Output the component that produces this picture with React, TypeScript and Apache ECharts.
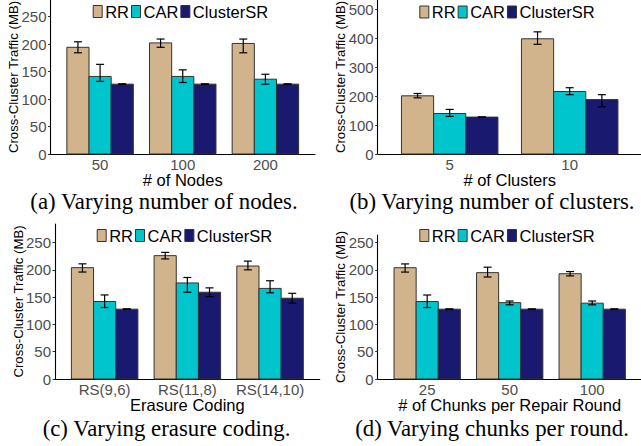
import React, { useEffect, useRef } from 'react';
import * as echarts from 'echarts';

// ---------- data ----------
const seriesNames = ['RR', 'CAR', 'ClusterSR'];
const seriesColors = ['#D2B48C', '#00C5CD', '#191970'];

// (a) number of nodes
const nodesCategories = ['50', '100', '200'];
const nodesRR = [194, 202, 201];
const nodesRRErr = [[184, 204], [194, 209], [184, 209]];
const nodesCAR = [141, 141, 136];
const nodesCARErr = [[132, 163], [130, 153], [127, 145]];
const nodesCSR = [127, 127, 127];
const nodesCSRErr = [[126.3, 127.7], [126.3, 127.7], [126.3, 127.7]];

// (b) number of clusters
const clustersCategories = ['5', '10'];
const clustersRR = [201, 398];
const clustersRRErr = [[194, 209], [379, 422]];
const clustersCAR = [140, 216];
const clustersCARErr = [[130, 154], [205, 229]];
const clustersCSR = [127.5, 188];
const clustersCSRErr = [[126.8, 128.2], [163, 205]];

// (c) erasure coding
const codingCategories = ['RS(9,6)', 'RS(11,8)', 'RS(14,10)'];
const codingRR = [204, 226, 207];
const codingRRErr = [[196, 211], [220, 232], [200, 216]];
const codingCAR = [142, 176, 166];
const codingCARErr = [[131, 154], [159, 186], [158, 180]];
const codingCSR = [128, 159, 148];
const codingCSRErr = [[127.3, 128.7], [151, 167], [139, 157]];

// (d) chunks per repair round
const chunksCategories = ['25', '50', '100'];
const chunksRR = [204, 195, 193];
const chunksRRErr = [[196, 211], [187, 205], [189, 197]];
const chunksCAR = [142, 140, 139];
const chunksCARErr = [[131, 154], [136, 143], [136, 143]];
const chunksCSR = [128, 128, 128];
const chunksCSRErr = [[127.3, 128.7], [127.3, 128.7], [127.3, 128.7]];

const yTicksSmall = [0, 50, 100, 150, 200, 250];
const yTicksLarge = [0, 100, 200, 300, 400, 500];

// ---------- layout ----------
const panels = [
  {
    cats: nodesCategories,
    means: [nodesRR, nodesCAR, nodesCSR],
    errs: [nodesRRErr, nodesCARErr, nodesCSRErr],
    left: 50.5, top: 0, right: 315, bottom: 154, yMax: 280, ticks: yTicksSmall,
    xTitle: '# of Nodes', caption: '(a) Varying number of nodes.',
    yTitleX: 13.5, captionX: 164, captionY: 201, legendLeft: 92.7, legendTop: 3,
  },
  {
    cats: clustersCategories,
    means: [clustersRR, clustersCAR, clustersCSR],
    errs: [clustersRRErr, clustersCARErr, clustersCSRErr],
    left: 377.7, top: 0, right: 641.7, bottom: 154, yMax: 532, ticks: yTicksLarge,
    xTitle: '# of Clusters', caption: '(b) Varying number of clusters.',
    yTitleX: 340.5, captionX: 492, captionY: 201, legendLeft: 419.3, legendTop: 3.5,
  },
  {
    cats: codingCategories,
    means: [codingRR, codingCAR, codingCSR],
    errs: [codingRRErr, codingCARErr, codingCSRErr],
    left: 55, top: 224, right: 319.7, bottom: 379, yMax: 284, ticks: yTicksSmall,
    xTitle: 'Erasure Coding', caption: '(c) Varying erasure coding.',
    yTitleX: 18.7, captionX: 166.5, captionY: 428, legendLeft: 96.7, legendTop: 227,
  },
  {
    cats: chunksCategories,
    means: [chunksRR, chunksCAR, chunksCSR],
    errs: [chunksRRErr, chunksCARErr, chunksCSRErr],
    left: 377.7, top: 235, right: 641.7, bottom: 379, yMax: 264, ticks: yTicksSmall,
    xTitle: '# of Chunks per Repair Round', caption: '(d) Varying chunks per round.',
    yTitleX: 340.5, captionX: 492, captionY: 428, legendLeft: 419.3, legendTop: 227,
  },
];

const BAR_W = 0.268;
const SANS = 'Liberation Sans';
const SERIF = 'Liberation Serif';
const TICK_COLOR = '#4D4D4D';
const BORDER = '#333333';

function buildOption() {
  const grid: any[] = [];
  const xAxis: any[] = [];
  const yAxis: any[] = [];
  const series: any[] = [];
  const legend: any[] = [];
  const graphic: any[] = [];

  panels.forEach((p, gi) => {
    grid.push({
      left: p.left,
      top: p.top,
      width: p.right - p.left,
      height: p.bottom - p.top,
      containLabel: false,
      outerBoundsMode: 'none',
    });
    const idx = p.cats.map((_, i) => i);
    xAxis.push({
      type: 'value',
      gridIndex: gi,
      min: -0.6,
      max: p.cats.length - 0.4,
      splitLine: { show: false },
      axisLine: { show: true, onZero: false, lineStyle: { color: '#000', width: 1.1 } },
      axisTick: { show: false },
      axisLabel: {
        customValues: idx,
        formatter: (v: number) => p.cats[Math.round(v)] ?? '',
        color: TICK_COLOR,
        fontFamily: SANS,
        fontSize: 15,
        lineHeight: 14,
        margin: 3.5,
      },
    });
    yAxis.push({
      type: 'value',
      gridIndex: gi,
      min: 0,
      max: p.yMax,
      splitLine: { show: false },
      axisLine: { show: true, onZero: false, lineStyle: { color: '#000', width: 1.1 } },
      axisTick: { show: true, customValues: p.ticks, length: 2.5, lineStyle: { color: '#333' } },
      axisLabel: {
        customValues: p.ticks,
        color: TICK_COLOR,
        fontFamily: SANS,
        fontSize: 15,
        margin: 4,
      },
    });

    seriesNames.forEach((name, si) => {
      const off = (si - 1) * BAR_W;
      series.push({
        type: 'custom',
        name,
        xAxisIndex: gi,
        yAxisIndex: gi,
        itemStyle: { color: seriesColors[si], borderColor: BORDER, borderWidth: 1 },
        encode: { x: 0, y: 1 },
        data: p.means[si].map((v, i) => [i, v]),
        renderItem: (params: any, api: any) => {
          const x = api.value(0) + off;
          const v = api.value(1);
          const p0 = api.coord([x - BAR_W / 2, v]);
          const p1 = api.coord([x + BAR_W / 2, 0]);
          return {
            type: 'rect',
            shape: { x: p0[0], y: p0[1], width: p1[0] - p0[0], height: p1[1] - p0[1] },
            style: { fill: seriesColors[si], stroke: BORDER, lineWidth: 1 },
          };
        },
        z: 2,
      });
      series.push({
        type: 'custom',
        name: name + ' error',
        xAxisIndex: gi,
        yAxisIndex: gi,
        encode: { x: 0, y: [1, 2] },
        data: p.errs[si].map((e, i) => [i, e[0], e[1]]),
        renderItem: (params: any, api: any) => {
          const x = api.value(0) + off;
          const lo = api.coord([x, api.value(1)]);
          const hi = api.coord([x, api.value(2)]);
          const cw = 4;
          const st = { stroke: '#000', lineWidth: 1.2 };
          return {
            type: 'group',
            children: [
              { type: 'line', shape: { x1: lo[0], y1: lo[1], x2: hi[0], y2: hi[1] }, style: st },
              { type: 'line', shape: { x1: lo[0] - cw, y1: lo[1], x2: lo[0] + cw, y2: lo[1] }, style: st },
              { type: 'line', shape: { x1: hi[0] - cw, y1: hi[1], x2: hi[0] + cw, y2: hi[1] }, style: st },
            ],
          };
        },
        z: 3,
      });
    });

    legend.push({
      data: seriesNames,
      left: p.legendLeft,
      top: p.legendTop,
      padding: 0,
      orient: 'horizontal',
      icon: 'rect',
      itemWidth: 9,
      itemHeight: 12,
      itemGap: 2,
      selectedMode: false,
      textStyle: { fontFamily: SANS, fontSize: 16.5, color: '#000', padding: [0, 0, 0, -2] },
      itemStyle: { borderColor: BORDER, borderWidth: 1 },
    });

    const midY = (p.top + p.bottom) / 2;
    const midX = (p.left + p.right) / 2;
    graphic.push({
      type: 'text',
      x: p.yTitleX,
      y: midY,
      rotation: Math.PI / 2,
      style: {
        text: 'Cross-Cluster Traffic (MB)',
        fontFamily: SANS,
        fontSize: 13.2,
        fill: '#000',
        textAlign: 'center',
        textVerticalAlign: 'middle',
      },
    });
    graphic.push({
      type: 'text',
      x: midX,
      y: p.bottom + 26,
      style: {
        text: p.xTitle,
        fontFamily: SANS,
        fontSize: 16.5,
        lineHeight: 15,
        fill: '#000',
        textAlign: 'center',
        textVerticalAlign: 'middle',
      },
    });
    graphic.push({
      type: 'text',
      x: p.captionX,
      y: p.captionY,
      style: {
        text: p.caption,
        fontFamily: SERIF,
        fontSize: 22.8,
        fill: '#000',
        textAlign: 'center',
        textVerticalAlign: 'middle',
      },
    });
  });

  return {
    animation: false,
    backgroundColor: '#ffffff',
    grid,
    xAxis,
    yAxis,
    legend,
    series,
    graphic,
  };
}

export default function App() {
  const ref = useRef<HTMLDivElement>(null);
  useEffect(() => {
    if (!ref.current) return;
    const chart = echarts.init(ref.current, undefined, { renderer: 'svg' });
    chart.setOption(buildOption() as any);
    return () => {
      chart.dispose();
    };
  }, []);
  return (
    <div
      ref={ref}
      style={{ position: 'fixed', left: 0, top: 0, width: 641, height: 446, background: '#fff' }}
    />
  );
}
